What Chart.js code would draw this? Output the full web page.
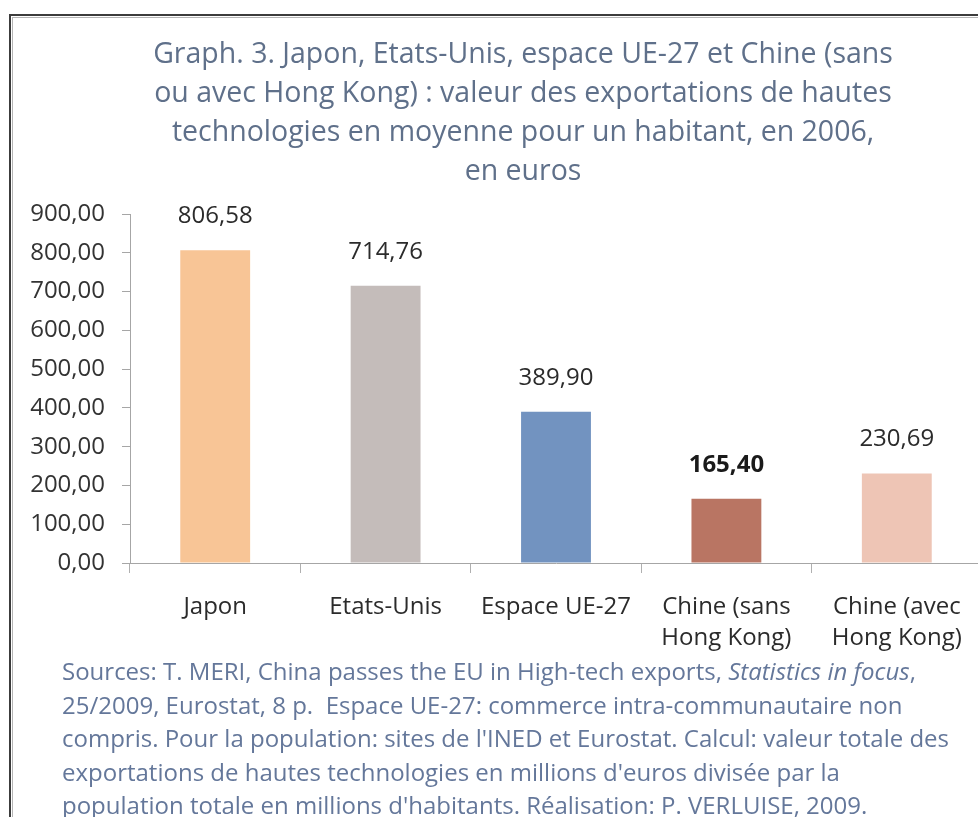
<!DOCTYPE html>
<html lang="fr">
<head>
    <meta charset="UTF-8">
    <title>Graph. 3 - exportations de hautes technologies</title>
    <script src="https://cdn.jsdelivr.net/npm/chart.js"></script>
    <style>
        html, body { margin: 0; padding: 0; background: #fff; overflow: hidden; }
        body { width: 978px; height: 817px; position: relative; }
        .frame {
            position: absolute; left: 9px; top: 14px; width: 1100px; height: 900px;
            border-left: 2px solid #3c3c3c; border-top: 2px solid #3c3c3c;
        }
        .frame-inner {
            position: absolute; left: 12px; top: 17px; width: 1100px; height: 900px;
            border-left: 1px solid #b5b5b5; border-top: 1px solid #b5b5b5;
        }
        #chart { position: absolute; left: 0; top: 0; }
        .sources {
            position: absolute; left: 62px; top: 654px;
            font-family: "Open Sans", sans-serif; font-size: 24px; line-height: 33.5px;
            color: #64779a; white-space: nowrap;
        }
    </style>
</head>
<body>
    <div class="frame"></div>
    <div class="frame-inner"></div>
    <canvas id="chart" width="1046" height="660"></canvas>
    <div class="sources">
        Sources: T. MERI, China passes the EU in High-tech exports, <i>Statistics in focus</i>,<br>
        25/2009, Eurostat, 8 p.&nbsp; Espace UE-27: commerce intra-communautaire non<br>
        compris. Pour la population: sites de l'INED et Eurostat. Calcul: valeur totale des<br>
        exportations de hautes technologies en millions d'euros divisée par la<br>
        population totale en millions d'habitants. Réalisation: P. VERLUISE, 2009.
    </div>

    <script>
        // data
        const categories = [
            ['Japon'],
            ['Etats-Unis'],
            ['Espace UE-27'],
            ['Chine (sans', 'Hong Kong)'],
            ['Chine (avec', 'Hong Kong)']
        ];
        const values = [806.58, 714.76, 389.90, 165.40, 230.69];
        const barColors = ['#f8c596', '#c4bcba', '#7293c0', '#b97563', '#eec5b5'];
        const boldLabel = [false, false, false, true, false];
        const yTicks = [0, 100, 200, 300, 400, 500, 600, 700, 800, 900];
        const titleLines = [
            'Graph. 3. Japon, Etats-Unis, espace UE-27 et Chine (sans',
            'ou avec Hong Kong) : valeur des exportations de hautes',
            'technologies en moyenne pour un habitant, en 2006,',
            'en euros'
        ];

        const FONT = '"Open Sans", sans-serif';
        const fmt = v => v.toFixed(2).replace('.', ',');

        // value labels above the bars
        const valueLabels = {
            id: 'valueLabels',
            afterDatasetsDraw(chart) {
                const ctx = chart.ctx;
                const meta = chart.getDatasetMeta(0);
                ctx.save();
                ctx.textAlign = 'center';
                ctx.textBaseline = 'middle';
                meta.data.forEach((bar, i) => {
                    ctx.font = (boldLabel[i] ? 'bold ' : '') + '24px ' + FONT;
                    ctx.fillStyle = boldLabel[i] ? '#1a1a1a' : '#2b2b2b';
                    ctx.fillText(fmt(values[i]), bar.x, bar.y - 34);
                });
                ctx.restore();
            }
        };

        const ctx = document.getElementById('chart').getContext('2d');
        new Chart(ctx, {
            type: 'bar',
            data: {
                labels: categories,
                datasets: [{
                    data: values,
                    backgroundColor: barColors,
                    borderWidth: 0,
                    barPercentage: 0.41,
                    categoryPercentage: 1
                }]
            },
            options: {
                responsive: false,
                devicePixelRatio: 1,
                animation: false,
                layout: { padding: 0 },
                plugins: {
                    legend: { display: false },
                    tooltip: { enabled: false },
                    title: {
                        display: true,
                        text: titleLines,
                        color: '#5f708a',
                        font: { family: FONT, size: 28.5, weight: 'normal', lineHeight: 39 / 28.5 },
                        padding: { top: 35.5, bottom: 22.5 }
                    }
                },
                scales: {
                    x: {
                        afterFit: s => { s.height = 97; },
                        border: { color: '#a6a6a6' },
                        grid: { offset: true, drawOnChartArea: false, tickLength: 10, color: '#b0b0b0' },
                        ticks: {
                            color: '#2b2b2b',
                            padding: 18.5,
                            maxRotation: 0,
                            autoSkip: false,
                            font: { family: FONT, size: 24, lineHeight: 31 / 24 }
                        }
                    },
                    y: {
                        min: 0,
                        max: 900,
                        afterFit: s => { s.width = 130; },
                        afterBuildTicks: s => { s.ticks = yTicks.map(v => ({ value: v })); },
                        border: { color: '#a6a6a6' },
                        grid: { drawOnChartArea: false, tickLength: 8, color: '#a6a6a6' },
                        ticks: {
                            color: '#333333',
                            padding: 17,
                            font: { family: FONT, size: 24 },
                            callback: v => fmt(v)
                        }
                    },
                    // empty right-hand spacer so the plot ends where the original's does
                    yRight: {
                        position: 'right',
                        min: 0,
                        max: 900,
                        afterFit: s => { s.width = 64; },
                        border: { display: false },
                        grid: { display: false },
                        ticks: { display: false }
                    }
                }
            },
            plugins: [valueLabels]
        });
    </script>
</body>
</html>
